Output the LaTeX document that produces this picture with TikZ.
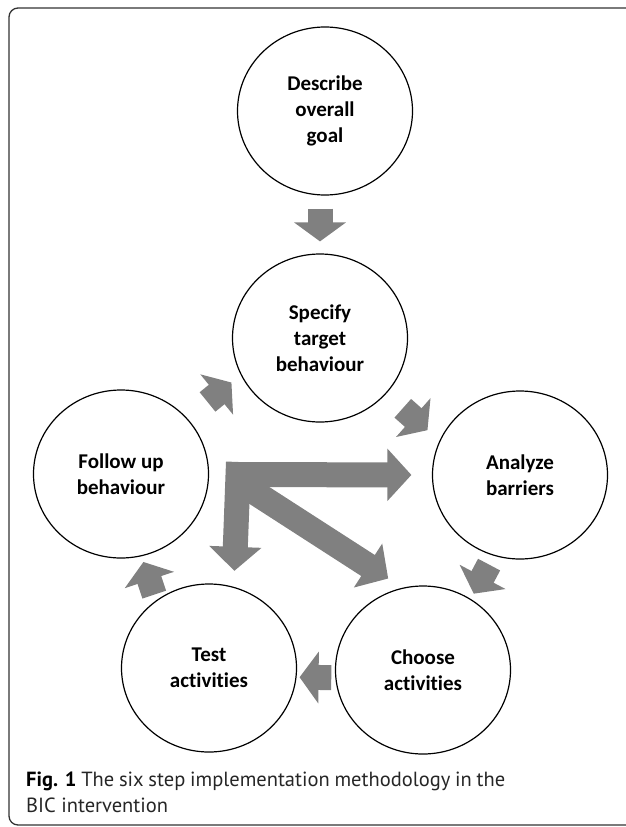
\documentclass[tikz,border=0pt]{standalone}
\usepackage{fontspec}
\setmainfont{Carlito}[Ligatures=NoCommon, RawFeature={-calt,-clig}]
\newfontfamily\capfont{PT Sans}
\usetikzlibrary{shapes.geometric,arrows.meta,positioning}
\tikzset{
  stage/.style={ellipse, draw=black, line width=1.2pt, minimum width=175pt, minimum height=168pt,
    inner sep=0pt, align=center, font=\bfseries\fontsize{21}{26}\selectfont},
  flow/.style={draw=gray, line width=25pt, -{Triangle[width=51pt,length=19pt]}},
  hubflow/.style={flow, -{Triangle[width=51pt,length=24pt]}},
  capline/.style={anchor=base west, inner sep=0pt, text=black!85, font=\capfont\fontsize{20.5}{26}\selectfont}
}
\begin{document}
\begin{tikzpicture}[x=1pt,y=-1pt]
\useasboundingbox (0,0) rectangle (625,827);
\draw[black!80, line width=1.3pt, rounded corners=9pt] (630,8) -- (9,8) -- (9,825) -- (630,825);

\node[stage] (desc) at (325,111) {Describe\\overall\\goal};
\node[stage] (spec) at (320,338) {Specify\\target\\behaviour};
\node[stage] (folw) at (121,474) {Follow up\\behaviour};
\node[stage] (anlz) at (520,475) {Analyze\\barriers};
\node[stage] (test) at (209,668) {Test\\activities};
\node[stage] (chse) at (423,670) {Choose\\activities};
\coordinate (hub) at (238.5,474.5);

\draw[flow, shorten <=13pt, shorten >=12pt] (desc.south -| spec) -- (spec.north);
\draw[flow, shorten <=26pt, shorten >=12pt] (folw.40) -- (spec.205);
\draw[flow, shorten <=22pt, shorten >=16pt] (spec.320) -- (anlz.157);
\draw[flow, shorten <=10pt, shorten >=6pt] (anlz.252) -- (chse.56);
\draw[flow, shorten <=4pt, shorten >=3pt] (chse.185) -- (test.354);
\draw[flow, shorten <=6pt, shorten >=6pt] (test.128) -- (folw.284);

\draw[hubflow, shorten >=20.5pt] ([xshift=-11.5pt]hub) -- (anlz.west);
\draw[hubflow, shorten >=16pt] ([yshift=12.5pt]hub) -- (test.73);
\draw[hubflow, shorten >=17pt] ([yshift=-7.5pt]hub) -- (chse.104);

\node[capline] (cap1) at (26,786) {\makebox[479pt][s]{{\bfseries\color{black}Fig. 1} The six step implementation methodology in the}};
\node[capline] (cap2) at ([yshift=-26pt]cap1.base west) {BIC intervention};
\end{tikzpicture}
\end{document}
